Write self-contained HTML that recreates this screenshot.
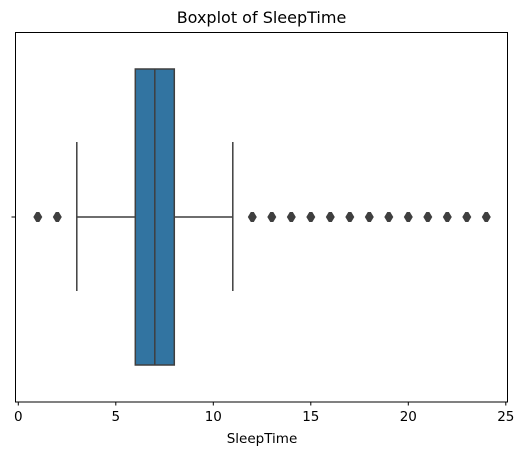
<!DOCTYPE html>
<html><head><meta charset="utf-8"><style>
body{margin:0;background:#fff;}
svg{display:block;font-family:"DejaVu Sans","Liberation Sans",sans-serif;}
</style></head><body>
<svg id="chart" width="526" height="455" viewBox="0 0 526 455" xmlns="http://www.w3.org/2000/svg">
<text x="261.5" y="23" text-anchor="middle" font-size="16" fill="#000">Boxplot of SleepTime</text>
<rect x="15.5" y="32.5" width="492" height="369.5" fill="none" stroke="#000" stroke-width="1"/>
<g id="marks"></g>
<text x="262" y="443" text-anchor="middle" font-size="13.5" fill="#000">SleepTime</text>
</svg>
<script>
const ticks=[0,5,10,15,20,25];
const q1=[6], median=[7], q3=[8], whiskerLow=[3], whiskerHigh=[11];
const outliers=[1,2,12,13,14,15,16,17,18,19,20,21,22,23,24];
const NS="http://www.w3.org/2000/svg";
const x=v=>18.3+v*19.5;
const cy=217, boxTop=69, boxBot=365, capTop=142, capBot=291, axisBot=402;
const g=document.getElementById('marks');
function mk(t,a){const e=document.createElementNS(NS,t);for(const k in a)e.setAttribute(k,a[k]);g.appendChild(e);return e;}
const col='#3f3f3f';
ticks.forEach(t=>{
 const l=mk('line',{x1:x(t),x2:x(t),y1:axisBot,y2:axisBot+3.5,stroke:'#000'});
 
 
 const tx=mk('text',{x:x(t),y:axisBot+19,'text-anchor':'middle','font-size':'13.5',fill:'#000'});
 tx.textContent=t;
 
 
});
const yt=mk('line',{x1:11.5,x2:15.5,y1:cy,y2:cy,stroke:'#000'});


const w1=mk('line',{x1:x(whiskerLow[0]),x2:x(q1[0]),y1:cy,y2:cy,stroke:col,'stroke-width':1.5});


const w2=mk('line',{x1:x(q3[0]),x2:x(whiskerHigh[0]),y1:cy,y2:cy,stroke:col,'stroke-width':1.5});


const c1=mk('line',{x1:x(whiskerLow[0]),x2:x(whiskerLow[0]),y1:capTop,y2:capBot,stroke:col,'stroke-width':1.5});


const c2=mk('line',{x1:x(whiskerHigh[0]),x2:x(whiskerHigh[0]),y1:capTop,y2:capBot,stroke:col,'stroke-width':1.5});


const b=mk('rect',{x:x(q1[0]),y:boxTop,width:x(q3[0])-x(q1[0]),height:boxBot-boxTop,fill:'#3274a1',stroke:col,'stroke-width':1.5});


const m=mk('line',{x1:x(median[0]),x2:x(median[0]),y1:boxTop,y2:boxBot,stroke:col,'stroke-width':1.5});


outliers.forEach(v=>{
 const X=x(v);
 const p=mk('path',{d:`M${X-1.5} ${cy-5}L${X+1.5} ${cy-5}L${X+4.5} ${cy}L${X+1.5} ${cy+5}L${X-1.5} ${cy+5}L${X-4.5} ${cy}Z`,fill:col});
 
 
});
</script>
</body></html>
